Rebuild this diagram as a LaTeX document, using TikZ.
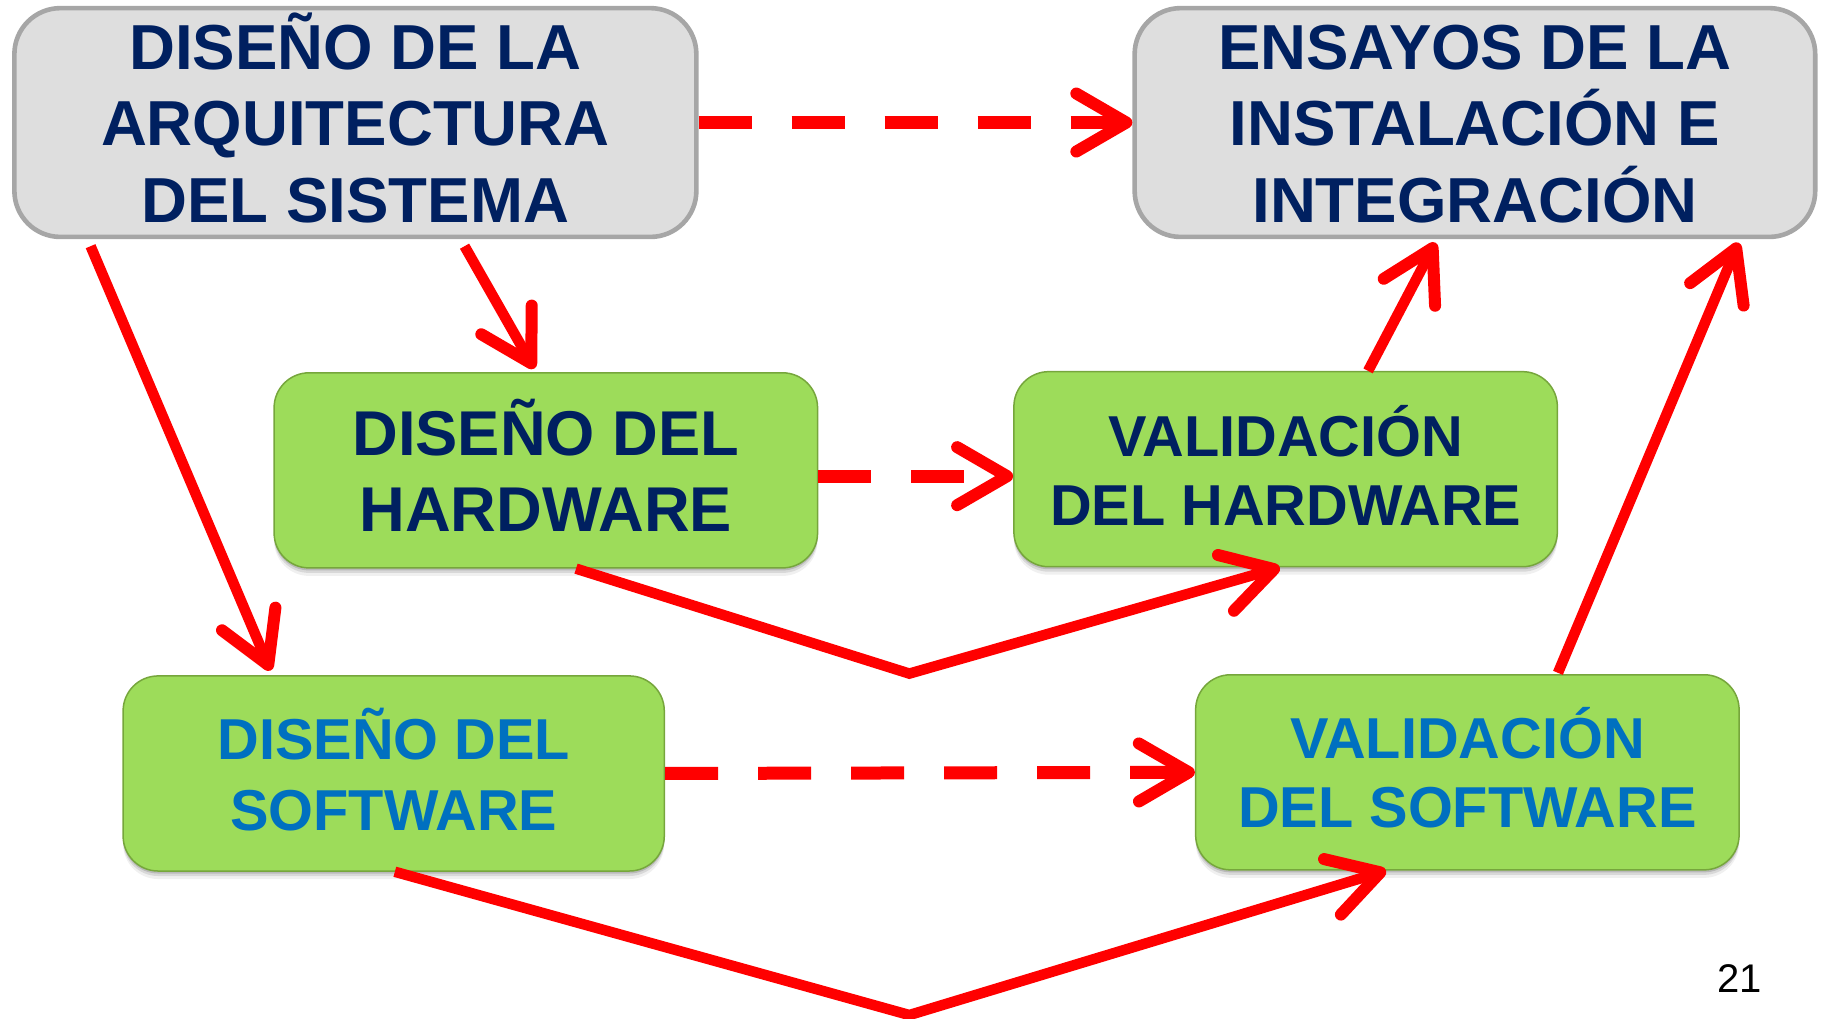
\documentclass[tikz,border=0pt]{standalone}
\usepackage{fontspec}
\setmainfont{Liberation Sans}
\usetikzlibrary{arrows.meta,calc,shadows}
\definecolor{navy}{RGB}{0,32,96}
\definecolor{tblue}{RGB}{0,112,192}
\definecolor{gfill}{RGB}{157,220,90}
\definecolor{gline}{RGB}{118,166,60}
\definecolor{gryfill}{RGB}{222,222,222}
\definecolor{gryline}{RGB}{166,166,166}
\definecolor{rred}{RGB}{255,0,0}
\begin{document}
\begin{tikzpicture}[x=1.1614pt,y=-1.1614pt,
  graybox/.style={draw=gryline, line width=4.6pt, fill=gryfill, rounded corners=46pt,
    minimum width=682pt, minimum height=228.8pt, inner sep=0pt, align=center,
    text=navy, font=\bfseries\fontsize{63.6}{76.7}\selectfont,
    text height=208pt, text depth=8.2pt},
  softshadow/.style={
    general shadow={shadow xshift=0pt, shadow yshift=-2.5pt, opacity=.14, fill=black},
    general shadow={shadow xshift=0pt, shadow yshift=-5pt, opacity=.10, fill=black},
    general shadow={shadow xshift=0pt, shadow yshift=-8pt, opacity=.06, fill=black}},
  greenbox/.style={draw=gline, line width=1.5pt, fill=gfill, rounded corners=35pt,
    minimum width=543.5pt, minimum height=195.1pt, inner sep=0pt, align=center,
    softshadow},
  bigtxt/.style={font=\bfseries\fontsize{63.3}{75.5}\selectfont, text height=142pt, text depth=20pt},
  smalltxt/.style={font=\bfseries\fontsize{57.7}{69.5}\selectfont, text height=133.4pt, text depth=20pt},
  solidarr/.style={draw=rred, line width=10.5pt,
    -{Straight Barb[length=50pt,width=58pt,line width=12pt,round]}},
  dasharr/.style={draw=rred, line width=13pt, dash pattern=on 53pt off 40pt,
    -{Straight Barb[length=50pt,width=58pt,line width=12pt,round]}}
]
\clip (0,0) rectangle (1568,877);
\node[graybox] (b1) at (306,105.5) {DISEÑO DE LA\\ARQUITECTURA\\DEL SISTEMA};
\node[graybox, minimum width=680.6pt] (b2) at (1270,105.5) {ENSAYOS DE LA\\INSTALACIÓN E\\INTEGRACIÓN};
\node[greenbox, text=navy, bigtxt] (b3) at (470,405) {DISEÑO DEL\\HARDWARE};
\node[greenbox, text=navy, smalltxt] (b4) at (1107,404) {VALIDACIÓN\\DEL HARDWARE};
\node[greenbox, text=tblue, smalltxt, minimum width=541.2pt,
  font=\bfseries\fontsize{57.7}{70.8}\selectfont] (b5) at (339,666) {DISEÑO DEL\\SOFTWARE};
\node[greenbox, text=tblue, smalltxt, text height=131pt] (b6) at (1263.5,665) {VALIDACIÓN\\DEL SOFTWARE};
\node[font=\fontsize{40}{48}\selectfont] (pg) at (1498,843) {21};
\coordinate (vF) at (783,580);
\coordinate (vG) at (783,874);
% dashed connectors
\draw[dasharr] (b1.east) -- (b2.west);
\draw[dasharr] ($(b3.east)+(0,5)$) -- ($(b4.west)+(0,6)$);
\draw[dasharr] (b5.east) -- (b6.west);
% solid connectors
\draw[solidarr] ($(b1.south)+(94,6)$) -- ($(b3.north)+(-10,-3)$);
\draw[solidarr] ($(b1.south)+(-228,6)$) -- ($(b5.north)+(-106,-4)$);
\draw[solidarr] ($(b3.south)+(26,0)$) -- (vF) -- ($(b4.south)+(-5,0)$);
\draw[solidarr] ($(b5.south)+(1,0)$) -- (vG) -- ($(b6.south)+(-70,0)$);
\draw[solidarr] ($(b4.north)+(71,0)$) -- ($(b2.south)+(-34,3)$);
\draw[solidarr] ($(b6.north)+(78,-1)$) -- ($(b2.south)+(227,3)$);
\end{tikzpicture}
\end{document}
